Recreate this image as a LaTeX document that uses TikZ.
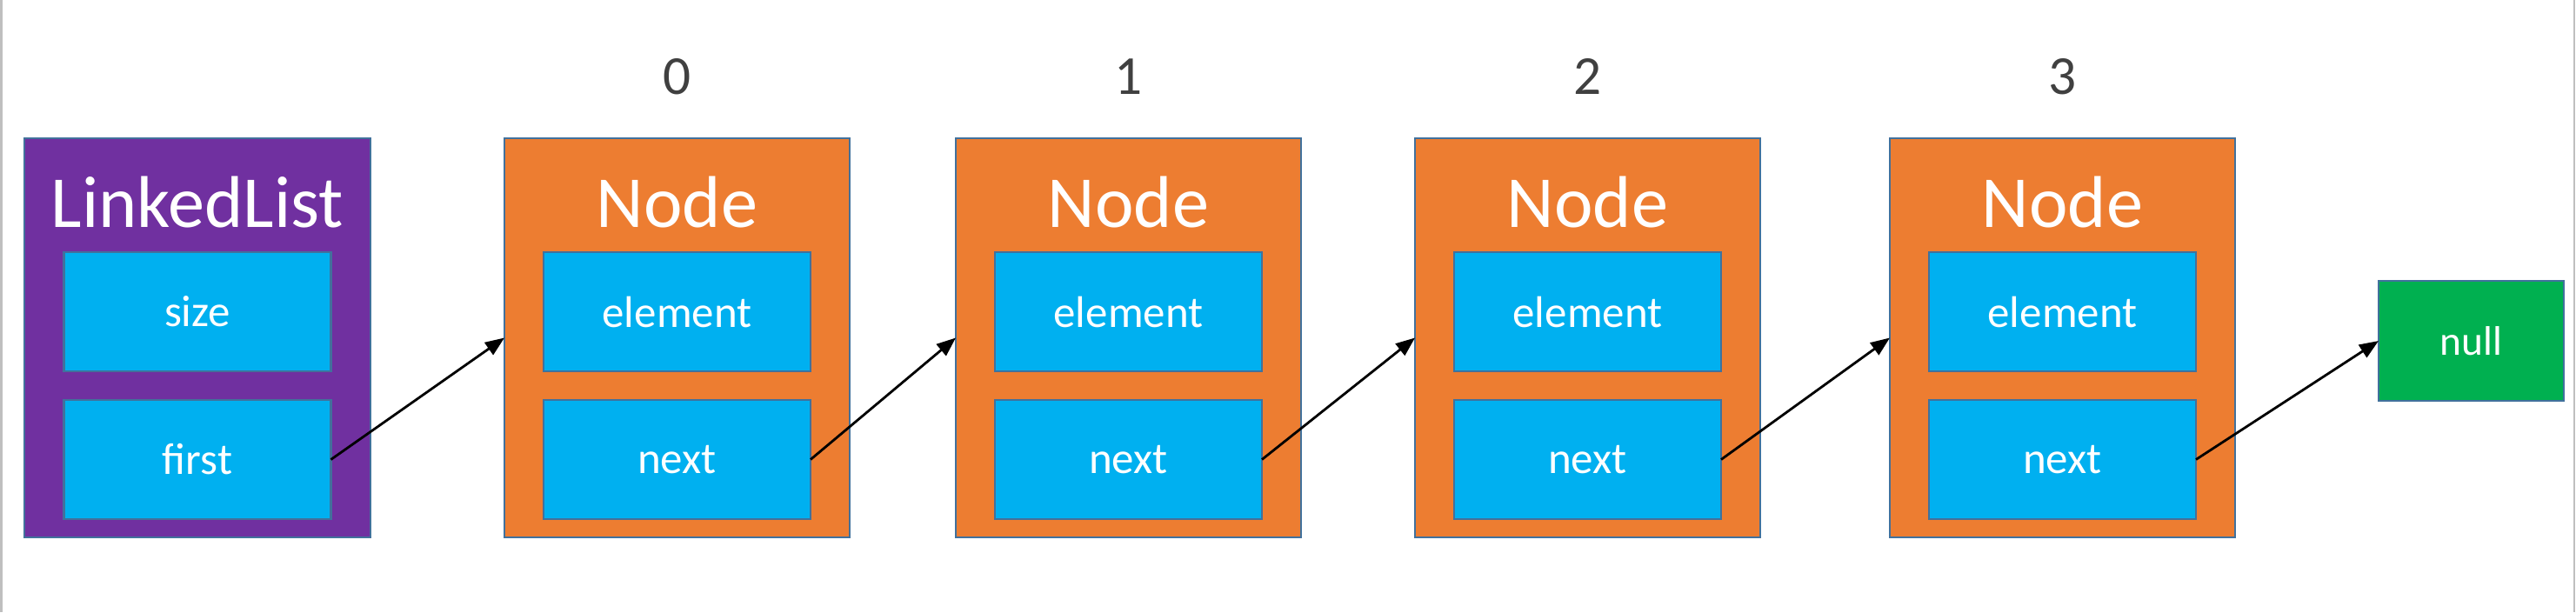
\documentclass[tikz,border=0pt]{standalone}
\usepackage{fontspec}
\setmainfont{Carlito}
\usetikzlibrary{positioning,arrows.meta}
\definecolor{morado}{HTML}{7030A0}
\definecolor{naranja}{HTML}{ED7D31}
\definecolor{celeste}{HTML}{00B0F0}
\definecolor{verde}{HTML}{00B050}
\definecolor{contorno}{HTML}{41719C}
\definecolor{gris}{HTML}{404040}

\begin{document}
\begin{tikzpicture}[node distance=1.3cm, every node/.style={font=\fontsize{14.5}{17}\selectfont, align=center},
  borde/.style={draw=contorno, line width=0.8pt, outer sep=0pt},
  clase/.style={borde, fill=morado, minimum width=3.98cm, minimum height=4.59cm},
  nodo/.style={borde, fill=naranja, minimum width=3.97cm, minimum height=4.59cm},
  campo/.style={borde, fill=celeste, text=white, minimum width=3.07cm, minimum height=1.37cm},
  nulo/.style={borde, fill=verde, text=white, minimum width=2.13cm, minimum height=1.38cm, font=\fontsize{13.5}{16}\selectfont},
  titulo/.style={text=white, font=\fontsize{24}{28}\selectfont, anchor=base},
  indice/.style={text=gris, font=\fontsize{18}{21}\selectfont, anchor=base},
  flecha/.style={-{Triangle[length=2.2mm, width=1.7mm]}, line width=0.8pt}]
\useasboundingbox (0,0) rectangle (29.62,-7.04);
\draw[gray!50, line width=0.6pt] (0.015,0) -- (0.015,-7.04);
\draw[gray!50, line width=0.6pt] (29.6,0) -- (29.6,-7.04);
% la lista y sus nodos
\node[clase] (ll) at (2.27,-3.885) {};
\node[nodo, right=1.54cm of ll] (n0) {};
\node[nodo, right=1.22cm of n0] (n1) {};
\node[nodo, right=1.31cm of n1] (n2) {};
\node[nodo, right=1.49cm of n2] (n3) {};
\node[nulo, right=1.65cm of n3, yshift=-0.035cm] (nil) {null};
% titulos e indices
\node[titulo] (tl) at ([yshift=-1.02cm]ll.north) {LinkedList};
\node[titulo] (t0) at ([yshift=-1.02cm]n0.north) {Node};
\node[titulo] (t1) at ([yshift=-1.02cm]n1.north) {Node};
\node[titulo] (t2) at ([yshift=-1.02cm]n2.north) {Node};
\node[titulo] (t3) at ([yshift=-1.02cm]n3.north) {Node};
\node[indice] (i0) at ([yshift=0.51cm]n0.north) {0};
\node[indice] (i1) at ([yshift=0.51cm]n1.north) {1};
\node[indice] (i2) at ([yshift=0.51cm]n2.north) {2};
\node[indice] (i3) at ([yshift=0.51cm]n3.north) {3};
% campos
\node[campo, below=1.31cm of ll.north] (sz) {size};
\node[campo, below=0.33cm of sz] (fs) {first};
\node[campo, below=1.31cm of n0.north] (e0) {element};
\node[campo, below=0.33cm of e0] (x0) {next};
\node[campo, below=1.31cm of n1.north] (e1) {element};
\node[campo, below=0.33cm of e1] (x1) {next};
\node[campo, below=1.31cm of n2.north] (e2) {element};
\node[campo, below=0.33cm of e2] (x2) {next};
\node[campo, below=1.31cm of n3.north] (e3) {element};
\node[campo, below=0.33cm of e3] (x3) {next};
\draw[flecha] (fs.east) -- (n0.west); \draw[flecha] (x0.east) -- (n1.west);
\draw[flecha] (x1.east) -- (n2.west); \draw[flecha] (x2.east) -- (n3.west);
\draw[flecha] (x3.east) -- (nil.west);
\end{tikzpicture}
\end{document}
